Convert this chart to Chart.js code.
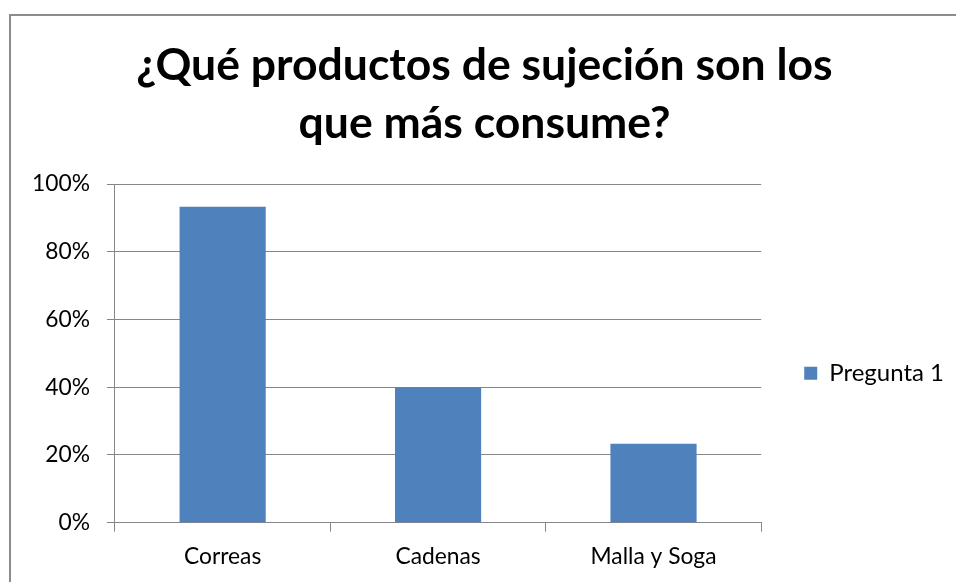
<!DOCTYPE html>
<html>
<head>
<meta charset="utf-8">
<script src="https://cdn.jsdelivr.net/npm/chart.js@4.4.0/dist/chart.umd.min.js"></script>
<style>
    html, body { margin: 0; background: #ffffff; overflow: hidden; width: 956px; height: 582px; }
    .edge { position: absolute; background: #8c8c8c; }
    #edge-left { left: 9px; top: 14px; width: 2px; height: 568px; }
    #edge-top { left: 9px; top: 14px; width: 947px; height: 2px; }
    #chart { position: absolute; left: 0; top: 0; }
</style>
</head>
<body>
<div class="edge" id="edge-left"></div>
<div class="edge" id="edge-top"></div>
<canvas id="chart" width="956" height="582"></canvas>
<script>
const titleLines = ['¿Qué productos de sujeción son los', 'que más consume?'];
const categories = ['Correas', 'Cadenas', 'Malla y Soga'];
const seriesName = 'Pregunta 1';
const values = [93.3, 40, 23.3];
const yTicks = [0, 20, 40, 60, 80, 100];

const family = 'Lato, Carlito, Calibri, sans-serif';

// pick font sizes so the text widths come close to the original picture
function fitSize(text, weight, targetWidth) {
    const ctx = document.createElement('canvas').getContext('2d');
    ctx.font = weight + ' 100px ' + family;
    return Math.round(targetWidth / ctx.measureText(text).width * 1000) / 10;
}
const titleSize = fitSize(titleLines[0], 'bold', 697);
const tickSize = fitSize('100%', 'normal', 58);
const legendSize = fitSize(seriesName, 'normal', 115);

const gridColor = '#868686';

const ctx = document.getElementById('chart').getContext('2d');
new Chart(ctx, {
    type: 'bar',
    data: {
        labels: categories,
        datasets: [{
            label: seriesName,
            data: values,
            backgroundColor: '#4f81bd',
            borderWidth: 0,
            barPercentage: 0.4,
            categoryPercentage: 1
        }]
    },
    options: {
        responsive: false,
        animation: false,
        layout: { padding: { left: 15, right: 2, top: 0, bottom: 1 } },
        plugins: {
            title: {
                display: true,
                text: titleLines,
                color: '#000000',
                font: { family: family, size: titleSize, weight: 'bold', lineHeight: 58 / titleSize },
                padding: { top: 37, bottom: 31 }
            },
            legend: {
                position: 'right',
                fullSize: false,
                labels: {
                    boxWidth: 13,
                    boxHeight: 13,
                    padding: 43,
                    color: '#000000',
                    font: { family: family, size: legendSize }
                },
                title: {
                    display: true,
                    text: '',
                    font: { size: 10, lineHeight: 1 },
                    padding: { top: 30, bottom: 0 }
                }
            },
            tooltip: { enabled: false }
        },
        scales: {
            x: {
                grid: { drawOnChartArea: false, drawTicks: true, tickLength: 9, color: gridColor },
                border: { color: gridColor },
                ticks: { color: '#000000', padding: 11, font: { family: family, size: tickSize } }
            },
            y: {
                min: 0,
                max: 100,
                afterBuildTicks: axis => { axis.ticks = yTicks.map(v => ({ value: v })); },
                grid: { color: gridColor, tickLength: 8 },
                border: { color: gridColor },
                ticks: {
                    color: '#000000',
                    padding: 17,
                    font: { family: family, size: tickSize },
                    callback: v => v + '%'
                }
            }
        }
    }
});
</script>
</body>
</html>
